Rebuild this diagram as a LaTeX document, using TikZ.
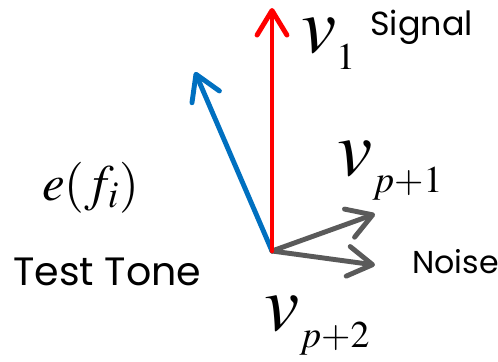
\documentclass[tikz,border=0pt]{standalone}
\usepackage{mathptmx}
\usepackage{fontspec}
\newfontfamily\labelfont{Poppins}
\usetikzlibrary{arrows.meta}
\definecolor{sigred}{HTML}{FF0000}
\definecolor{toneblue}{HTML}{0070C0}
\definecolor{noisegray}{HTML}{5A5A5A}
\tikzset{
  vec/.style={line width=2.8pt, line cap=round,
              -{Straight Barb[length=14pt, width=17pt, line width=2.8pt, round]}},
  word/.style={font=\labelfont\fontsize{19}{19}\selectfont, inner sep=0pt, anchor=base west},
  sym/.style={inner sep=0pt, anchor=base west},
}
\newcommand{\veclab}[1]{{\fontsize{45}{45}\selectfont$v$}\raisebox{-10pt}{\fontsize{21.5}{21.5}\selectfont$#1$}}

\begin{document}
\begin{tikzpicture}[x=0.02cm, y=-0.02cm]
  \useasboundingbox (0,0) rectangle (498,362);
  \coordinate (o)    at (272,251);
  \coordinate (sig)  at (272,8);
  \coordinate (tone) at (195,72);
  \coordinate (n1)   at (375,214);
  \coordinate (n2)   at (375,265);
  \draw[vec, draw=toneblue]  (o) -- (tone);
  \draw[vec, draw=noisegray] (o) -- (n1);
  \draw[vec, draw=noisegray] (o) -- (n2);
  \draw[vec, draw=sigred]    (o) -- (sig);
  % labels
  \node (v1)  [sym] at (301,52)  {\veclab{1}};
  \node (vp1) [sym] at (337,175) {\veclab{p{+}1}};
  \node (vp2) [sym] at (264,330) {\veclab{p{+}2}};
  \node (ef)  [sym] at (42,200)  {\fontsize{29}{29}\selectfont$e(f_{i})$};
  \node (sl)  [word] at (370,35)  {Signal};
  \node (nl)  [word, font=\labelfont\fontsize{18}{18}\selectfont] at (412,273) {Noise};
  \node (tt)  [word, font=\labelfont\fontsize{22.5}{22.5}\selectfont] at (13,285) {Test Tone};
\end{tikzpicture}
\end{document}
